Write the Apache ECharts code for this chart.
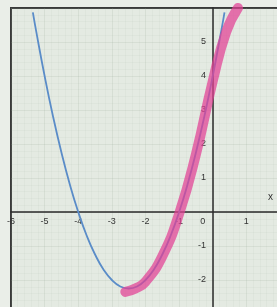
<!DOCTYPE html>
<html>
<head>
<meta charset="utf-8">
<script src="https://cdn.jsdelivr.net/npm/echarts@6/dist/echarts.min.js"></script>
<style>
  html, body { margin: 0; padding: 0; background: #eef1ec; }
  #chart { width: 277px; height: 307px; }
</style>
</head>
<body>
<div id="chart"></div>
<script>
// 曲线读数 (blue parabola)
const curveX = [-5.35, -5.25, -5, -4.75, -4.5, -4.25, -4, -3.75, -3.5, -3.25, -3, -2.75, -2.5,
  -2.25, -2, -1.75, -1.5, -1.25, -1, -0.75, -0.5, -0.25, 0, 0.25, 0.35];
const curveY = [5.87, 5.31, 4, 2.81, 1.75, 0.81, 0, -0.69, -1.25, -1.69, -2, -2.19, -2.25,
  -2.19, -2, -1.69, -1.25, -0.69, 0, 0.81, 1.75, 2.81, 4, 5.31, 5.87];

// 粉色高亮 (pink marker stroke)
const markX = [-2.6, -2.3, -2, -1.5, -1, -0.5, 0, 0.4, 0.75];
const markY = [-2.35, -2.25, -2.05, -1.3, -0.05, 1.7, 3.85, 5.3, 6.0];

const xTicks = [-6, -5, -4, -3, -2, -1, 0, 1, 2];
const yTicks = [-3, -2, -1, 0, 1, 2, 3, 4, 5, 6];

const toPairs = (xs, ys) => xs.map((x, i) => [x, ys[i]]);

const chart = echarts.init(document.getElementById('chart'));
chart.setOption({
  backgroundColor: '#eaeee8',
  animation: false,
  grid: {
    left: 11, top: 8, right: -3, bottom: -7,
    containLabel: false, outerBoundsMode: 'none',
    show: true, borderColor: '#3a3a3a', borderWidth: 2, backgroundColor: '#e4eae2'
  },
  xAxis: {
    type: 'value', min: xTicks[0], max: xTicks[xTicks.length - 1], interval: 1,
    position: 'bottom', offset: -102,
    name: 'x', nameLocation: 'end', nameGap: -12,
    nameTextStyle: { color: '#333', fontSize: 10, verticalAlign: 'bottom', padding: [0, 0, 10, 0] },
    axisLine: { onZero: false, lineStyle: { color: '#2a2a2a', width: 1.5 } },
    axisTick: { show: false },
    axisLabel: {
      color: '#333', fontSize: 9, margin: 5,
      formatter: v => (v === 0 ? '{z|0}' : (v === 2 ? '' : String(v))),
      rich: { z: { color: '#333', fontSize: 9, padding: [0, 20, 0, 0] } }
    },
    splitLine: { lineStyle: { color: 'rgba(140,160,140,0.16)' } },
    minorTick: { show: false },
    minorSplitLine: { show: true, lineStyle: { color: 'rgba(140,160,140,0.06)' } }
  },
  yAxis: {
    type: 'value', min: yTicks[0], max: yTicks[yTicks.length - 1], interval: 1,
    position: 'left', offset: -202,
    axisLine: { onZero: false, lineStyle: { color: '#2a2a2a', width: 1.5 } },
    axisTick: { show: false },
    axisLabel: {
      color: '#333', fontSize: 9, margin: 7,
      formatter: v => (v === 0 || v === 6 || v === -3 ? '' : String(v))
    },
    splitLine: { lineStyle: { color: 'rgba(140,160,140,0.16)' } },
    minorSplitLine: { show: true, lineStyle: { color: 'rgba(140,160,140,0.06)' } }
  },
  series: [
    {
      type: 'line', data: toPairs(curveX, curveY), smooth: true, showSymbol: false,
      lineStyle: { color: '#5a8cc8', width: 1.8 }, z: 2
    },
    {
      type: 'line', data: toPairs(markX, markY), smooth: true, showSymbol: false,
      lineStyle: { color: 'rgba(226,64,148,0.72)', width: 10, cap: 'round', join: 'round' }, z: 3
    }
  ]
});
</script>
</body>
</html>
